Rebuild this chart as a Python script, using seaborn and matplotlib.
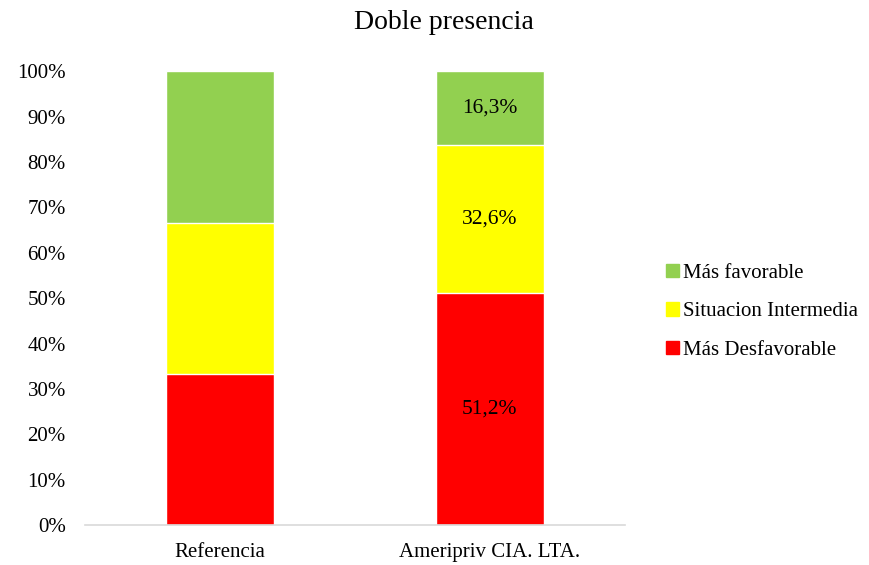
import matplotlib
matplotlib.use('agg')
import matplotlib.pyplot as plt
import seaborn as sns
import pandas as pd
import numpy as np
from matplotlib.patches import Patch
from matplotlib.ticker import PercentFormatter

# data
categorias = ['Referencia', 'Ameripriv CIA. LTA.']
series = ['Más Desfavorable', 'Situacion Intermedia', 'Más favorable']
desfavorable = [33.3, 51.2]
intermedia = [33.3, 32.6]
favorable = [33.4, 16.3]
etiquetas = [None, ['51,2%', '32,6%', '16,3%']]

colores = {'Más Desfavorable': '#FF0000',
           'Situacion Intermedia': '#FFFF00',
           'Más favorable': '#92D050'}

sns.set_style('white')
plt.rcParams['font.family'] = ['Liberation Serif', 'DejaVu Serif']
plt.rcParams['text.color'] = 'black'

valores = np.array([desfavorable, intermedia, favorable])
tops = np.cumsum(valores, axis=0)

fig = plt.figure(figsize=(8.7, 5.65), dpi=100)
ax = fig.add_axes([0.098, 0.0708, 0.620, 0.803])

# stacked bars: draw cumulative tops from largest to smallest
for i in reversed(range(len(series))):
    df = pd.DataFrame({'cat': categorias, 'val': tops[i]})
    sns.barplot(data=df, x='cat', y='val', color=colores[series[i]],
                width=0.4, saturation=1, ax=ax, order=categorias)

# labels for the second bar
for j, labs in enumerate(etiquetas):
    if labs is None:
        continue
    for i in range(len(series)):
        base = tops[i - 1][j] if i > 0 else 0
        ax.text(j, base + valores[i][j] / 2, labs[i], ha='center', va='center',
                fontsize=15.5, color='black')

ax.set_xlim(-0.5, 1.5)
ax.set_ylim(0, 100)
ax.set_yticks(np.arange(0, 101, 10))
ax.yaxis.set_major_formatter(PercentFormatter(decimals=0))
ax.set_xlabel('')
ax.set_ylabel('')
ax.tick_params(axis='both', labelsize=15, length=0, colors='black')
ax.tick_params(axis='y', pad=14)
ax.tick_params(axis='x', pad=13)
for s in ['top', 'right', 'left']:
    ax.spines[s].set_visible(False)
ax.spines['bottom'].set_color('#D9D9D9')
ax.spines['bottom'].set_linewidth(1.2)

fig.text(0.51, 0.961, 'Doble presencia', ha='center', va='center',
         fontsize=20, color='black', family=['Liberation Serif', 'DejaVu Serif'])

handles = [Patch(color=colores[s], label=s) for s in reversed(series)]
leg = fig.legend(handles=handles, loc='center left', bbox_to_anchor=(0.754, 0.448),
                 frameon=False, fontsize=15, handlelength=0.6, handleheight=0.6,
                 handletextpad=0.2, labelspacing=0.95, borderpad=0)
for t in leg.get_texts():
    t.set_color('black')

fig.savefig('out.png', dpi=100)
